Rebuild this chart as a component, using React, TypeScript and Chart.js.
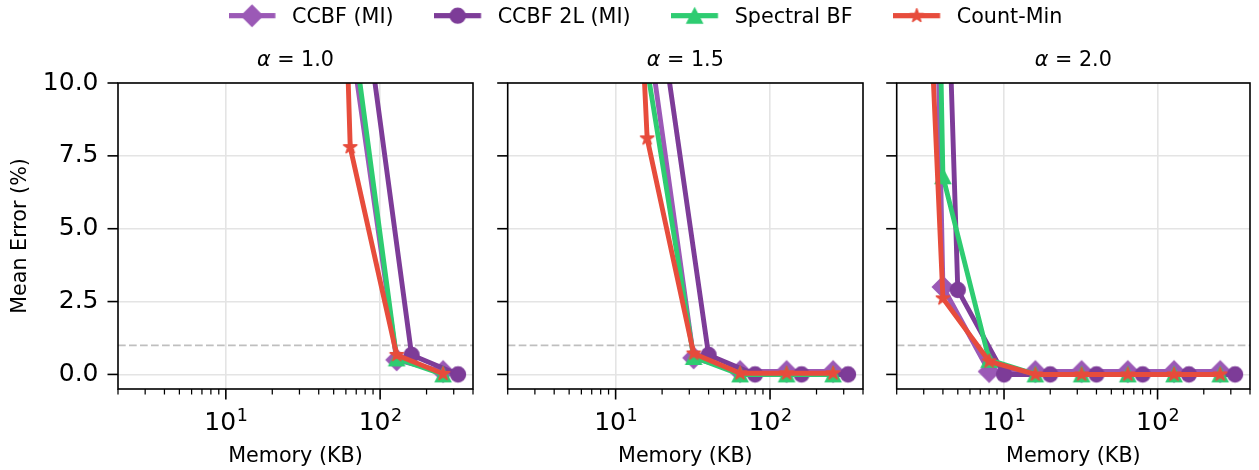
import React, { useEffect, useRef } from 'react';
import { Chart, registerables } from 'chart.js';

Chart.register(...registerables);

// ---------------- data ----------------
const MEMORY_KB = [2, 4, 8, 16, 32, 64, 128, 256];
const MEMORY_2L_KB = [2.5, 5, 10, 20, 40, 80, 160, 320];
const ALPHA_LABELS = ['1.0', '1.5', '2.0'];

const CCBF_MI_A10 = [null, null, null, null, null, 11.7, 0.5, 0.1];
const CCBF_MI_A15 = [null, null, null, 12.0, 0.57, 0.1, 0.1, 0.1];
const CCBF_MI_A20 = [80, 3.0, 0.1, 0.1, 0.1, 0.1, 0.1, 0.1];

const CCBF_2L_A10 = [null, null, null, null, null, 12.5, 0.67, 0.0];
const CCBF_2L_A15 = [null, null, null, 11.8, 0.67, 0.0, 0.0, 0.0];
const CCBF_2L_A20 = [53, 2.9, 0.0, 0.0, 0.0, 0.0, 0.0, 0.0];

const SPECTRAL_A10 = [null, null, null, null, null, 12.5, 0.55, 0.0];
const SPECTRAL_A15 = [null, null, null, 10.5, 0.6, 0.0, 0.0, 0.0];
const SPECTRAL_A20 = [90, 6.8, 0.5, 0.0, 0.0, 0.0, 0.0, 0.0];

const COUNT_MIN_A10 = [null, null, null, null, 60, 7.8, 0.67, 0.02];
const COUNT_MIN_A15 = [null, null, 42, 8.1, 0.72, 0.04, 0.04, 0.04];
const COUNT_MIN_A20 = [38.7, 2.61, 0.45, 0.0, 0.0, 0.0, 0.0, 0.0];

const X_MAJOR = [10, 100];
const X_MINOR = [2, 3, 4, 5, 6, 7, 8, 9, 20, 30, 40, 50, 60, 70, 80, 90, 200, 300, 400];
const X_TICK_BASE = '10';
const X_TICK_EXPONENTS: Record<number, string> = { 10: '1', 100: '2' };
const Y_TICKS = [0, 2.5, 5, 7.5, 10];
const X_MIN = 2;
const X_MAX = 400;
const Y_MIN = -0.5;
const Y_MAX = 10;
const THRESHOLD = 1.0;

const SERIES = [
  { label: 'CCBF (MI)', color: '#9b59b6', marker: 'diamond', memory: MEMORY_KB, values: [CCBF_MI_A10, CCBF_MI_A15, CCBF_MI_A20] },
  { label: 'CCBF 2L (MI)', color: '#7d3c98', marker: 'circle', memory: MEMORY_2L_KB, values: [CCBF_2L_A10, CCBF_2L_A15, CCBF_2L_A20] },
  { label: 'Spectral BF', color: '#2ecc71', marker: 'triangle', memory: MEMORY_KB, values: [SPECTRAL_A10, SPECTRAL_A15, SPECTRAL_A20] },
  { label: 'Count-Min', color: '#e74c3c', marker: 'star', memory: MEMORY_KB, values: [COUNT_MIN_A10, COUNT_MIN_A15, COUNT_MIN_A20] },
];

// ---------------- styles / layout ----------------
const FONT = "'DejaVu Sans'";
const TICK_FONT = 25;
const SUP_FONT = 17.5;
const LABEL_FONT = 20.7;
const LEGEND_FONT = 20.7;
const LINE_W = 4.9;
const GRID = '#e4e4e4';
const TRANSPARENT = 'rgba(0,0,0,0)';
const THRESHOLD_COLOR = '#bfbfbf';
const MAJOR_TICK = 10.5;
const MINOR_TICK = 5.5;

const PANEL_TOP = 40;
const PANEL_H = 430;
const PANELS = [
  { left: 0, width: 482, yAxisWidth: 118, padRight: 3.7, showY: true },
  { left: 487, width: 385, yAxisWidth: 20.7, padRight: 3.7, showY: false },
  { left: 876, width: 383, yAxisWidth: 20.7, padRight: 1.5, showY: false },
];

const LEGEND_ICON_W = 53;
const LEGEND_LINE_LEN = 46.7;
const LEGEND_GAP = 40.7;

function traceMarker(ctx: CanvasRenderingContext2D, kind: string, cx: number, cy: number) {
  ctx.beginPath();
  if (kind === 'diamond') {
    const r = 10.4;
    ctx.moveTo(cx, cy - r);
    ctx.lineTo(cx + r, cy);
    ctx.lineTo(cx, cy + r);
    ctx.lineTo(cx - r, cy);
    ctx.closePath();
  } else if (kind === 'circle') {
    ctx.arc(cx, cy, 7.4, 0, Math.PI * 2);
  } else if (kind === 'triangle') {
    const hw = 7.6;
    const h = 14.6;
    ctx.moveTo(cx, cy - h / 2);
    ctx.lineTo(cx + hw, cy + h / 2);
    ctx.lineTo(cx - hw, cy + h / 2);
    ctx.closePath();
  } else {
    const R = 7.0;
    const r = R * 0.382;
    for (let i = 0; i < 10; i++) {
      const ang = -Math.PI / 2 + (i * Math.PI) / 5;
      const rr = i % 2 === 0 ? R : r;
      const x = cx + rr * Math.cos(ang);
      const y = cy + rr * Math.sin(ang);
      if (i === 0) ctx.moveTo(x, y);
      else ctx.lineTo(x, y);
    }
    ctx.closePath();
  }
}

function paintMarker(ctx: CanvasRenderingContext2D, kind: string, cx: number, cy: number, color: string) {
  ctx.fillStyle = color;
  ctx.strokeStyle = color;
  ctx.lineWidth = 1.5;
  ctx.lineJoin = kind === 'star' ? 'round' : 'miter';
  traceMarker(ctx, kind, cx, cy);
  ctx.fill();
  ctx.stroke();
}

function makeMarkerCanvas(kind: string, color: string) {
  const c = document.createElement('canvas');
  c.width = 28;
  c.height = 28;
  const ctx = c.getContext('2d')!;
  paintMarker(ctx, kind, 14, 14, color);
  return c;
}

function makeLegendIcon(kind: string, color: string) {
  const c = document.createElement('canvas');
  c.width = LEGEND_ICON_W;
  c.height = 32;
  const ctx = c.getContext('2d')!;
  const cy = 16 - 2.3;
  ctx.strokeStyle = color;
  ctx.lineWidth = LINE_W + 0.4;
  ctx.beginPath();
  ctx.moveTo(0, cy);
  ctx.lineTo(LEGEND_LINE_LEN, cy);
  ctx.stroke();
  paintMarker(ctx, kind, LEGEND_LINE_LEN / 2, cy, color);
  return c;
}

const framePlugin = {
  id: 'panelFrame',
  beforeDatasetsDraw(chart: any) {
    const { ctx, chartArea: a, scales } = chart;
    const y = scales.y.getPixelForValue(THRESHOLD);
    ctx.save();
    ctx.beginPath();
    ctx.rect(a.left, a.top, a.right - a.left, a.bottom - a.top);
    ctx.clip();
    ctx.strokeStyle = THRESHOLD_COLOR;
    ctx.lineWidth = 1.8;
    ctx.setLineDash([7.7, 3.3]);
    ctx.beginPath();
    ctx.moveTo(a.left, y);
    ctx.lineTo(a.right, y);
    ctx.stroke();
    ctx.restore();
  },
  afterDatasetsDraw(chart: any, _args: any, opts: any) {
    const { ctx, chartArea: a, scales } = chart;
    ctx.save();
    ctx.strokeStyle = '#000';
    ctx.fillStyle = '#000';
    // x tick marks and labels
    for (const t of scales.x.ticks) {
      const px = scales.x.getPixelForValue(t.value);
      const major = X_MAJOR.includes(t.value);
      ctx.lineWidth = major ? 1.6 : 1.25;
      ctx.beginPath();
      ctx.moveTo(px, a.bottom);
      ctx.lineTo(px, a.bottom + (major ? MAJOR_TICK : MINOR_TICK));
      ctx.stroke();
      const exp = X_TICK_EXPONENTS[t.value];
      if (exp !== undefined) {
        ctx.textBaseline = 'alphabetic';
        ctx.textAlign = 'left';
        ctx.font = `${TICK_FONT}px ${FONT}`;
        const wb = ctx.measureText(X_TICK_BASE).width;
        ctx.font = `${SUP_FONT}px ${FONT}`;
        const we = ctx.measureText(exp).width;
        const x0 = px - (wb + we) / 2;
        const base = a.bottom + 40.8;
        ctx.font = `${TICK_FONT}px ${FONT}`;
        ctx.fillText(X_TICK_BASE, x0, base);
        ctx.font = `${SUP_FONT}px ${FONT}`;
        ctx.fillText(exp, x0 + wb + 0.5, base - 9.3);
      }
    }
    // y tick marks
    ctx.lineWidth = 1.6;
    for (const t of scales.y.ticks) {
      const py = scales.y.getPixelForValue(t.value);
      ctx.beginPath();
      ctx.moveTo(a.left - MAJOR_TICK, py);
      ctx.lineTo(a.left, py);
      ctx.stroke();
    }
    // spines
    ctx.lineWidth = 1.6;
    ctx.strokeRect(a.left, a.top, a.right - a.left, a.bottom - a.top);
    // title
    const alpha = '\u03B1';
    const rest = ' = ' + opts.alpha;
    ctx.textBaseline = 'middle';
    ctx.textAlign = 'left';
    ctx.font = `italic ${LABEL_FONT}px ${FONT}`;
    const w1 = ctx.measureText(alpha).width;
    ctx.font = `${LABEL_FONT}px ${FONT}`;
    const w2 = ctx.measureText(rest).width;
    const cx = (a.left + a.right) / 2;
    const x0 = cx - (w1 + w2) / 2;
    const ty = a.top - 22.8;
    ctx.font = `italic ${LABEL_FONT}px ${FONT}`;
    ctx.fillText(alpha, x0, ty);
    ctx.font = `${LABEL_FONT}px ${FONT}`;
    ctx.fillText(rest, x0 + w1, ty);
    ctx.restore();
  },
};

function panelConfig(pi: number, markers: HTMLCanvasElement[]): any {
  const panel = PANELS[pi];
  const datasets = SERIES.map((s, si) => ({
    label: s.label,
    data: s.memory.map((m, k) => ({ x: m, y: s.values[pi][k] })),
    borderColor: s.color,
    backgroundColor: s.color,
    borderWidth: LINE_W,
    borderJoinStyle: 'round',
    tension: 0,
    spanGaps: false,
    pointStyle: markers[si],
    pointRadius: 9,
    pointHoverRadius: 9,
    pointBorderWidth: 0,
    order: SERIES.length - si,
  }));
  return {
    type: 'line',
    data: { datasets },
    options: {
      responsive: false,
      animation: false,
      events: [],
      layout: { padding: { top: 43, right: panel.padRight, bottom: 0, left: 0 } },
      scales: {
        x: {
          type: 'logarithmic',
          min: X_MIN,
          max: X_MAX,
          bounds: 'data',
          afterBuildTicks: (scale: any) => {
            scale.ticks = [...X_MINOR, ...X_MAJOR]
              .filter((v) => v >= X_MIN && v <= X_MAX)
              .sort((p, q) => p - q)
              .map((v) => ({ value: v, major: X_MAJOR.includes(v) }));
          },
          afterFit: (scale: any) => {
            scale.height = 81;
            scale.paddingLeft = 0;
            scale.paddingRight = 0;
          },
          grid: {
            color: (c: any) => (c.tick && X_MAJOR.includes(c.tick.value) ? GRID : TRANSPARENT),
            lineWidth: 1.6,
            drawTicks: true,
            tickLength: MAJOR_TICK,
            tickColor: TRANSPARENT,
          },
          border: { display: false },
          ticks: {
            display: false,
            autoSkip: false,
            maxRotation: 0,
            minRotation: 0,
          },
          title: {
            display: true,
            text: 'Memory (KB)',
            color: '#000',
            font: { family: FONT, size: LABEL_FONT },
            padding: { top: 0, bottom: 1.1 },
          },
        },
        y: {
          type: 'linear',
          min: Y_MIN,
          max: Y_MAX,
          afterBuildTicks: (scale: any) => {
            scale.ticks = Y_TICKS.map((v) => ({ value: v }));
          },
          afterFit: (scale: any) => {
            scale.width = panel.yAxisWidth;
            scale.paddingTop = 0;
            scale.paddingBottom = 0;
          },
          grid: {
            color: GRID,
            lineWidth: 1.6,
            drawTicks: true,
            tickLength: MAJOR_TICK,
            tickColor: TRANSPARENT,
          },
          border: { display: false },
          ticks: {
            display: panel.showY,
            padding: 9,
            color: '#000',
            font: { family: FONT, size: TICK_FONT },
            callback: (v: any) => Number(v).toFixed(1),
          },
          title: {
            display: panel.showY,
            text: 'Mean Error (%)',
            color: '#000',
            font: { family: FONT, size: LABEL_FONT },
            padding: { top: 8.6, bottom: 0 },
          },
        },
      },
      plugins: {
        legend: { display: false },
        tooltip: { enabled: false },
        panelFrame: { alpha: ALPHA_LABELS[pi] },
      },
    },
    plugins: [framePlugin],
  };
}

function legendConfig(icons: HTMLCanvasElement[]): any {
  return {
    type: 'line',
    data: {
      datasets: SERIES.map((s) => ({ label: s.label, data: [], borderColor: s.color, backgroundColor: s.color })),
    },
    options: {
      responsive: false,
      animation: false,
      events: [],
      layout: { padding: 0 },
      scales: { x: { display: false }, y: { display: false } },
      plugins: {
        tooltip: { enabled: false },
        legend: {
          display: true,
          position: 'top',
          align: 'center',
          labels: {
            usePointStyle: true,
            pointStyleWidth: LEGEND_ICON_W,
            padding: LEGEND_GAP,
            color: '#000',
            font: { family: FONT, size: LEGEND_FONT },
            generateLabels: (chart: any) =>
              chart.data.datasets.map((ds: any, i: number) => ({
                text: ds.label,
                pointStyle: icons[i],
                fillStyle: ds.backgroundColor,
                strokeStyle: ds.borderColor,
                lineWidth: 0,
                hidden: false,
                datasetIndex: i,
                fontColor: '#000',
              })),
          },
        },
      },
    },
  };
}

export default function App() {
  const legendRef = useRef<HTMLCanvasElement>(null);
  const p0 = useRef<HTMLCanvasElement>(null);
  const p1 = useRef<HTMLCanvasElement>(null);
  const p2 = useRef<HTMLCanvasElement>(null);
  const panelRefs = [p0, p1, p2];

  useEffect(() => {
    Chart.defaults.font.family = FONT;
    const markers = SERIES.map((s) => makeMarkerCanvas(s.marker, s.color));
    const icons = SERIES.map((s) => makeLegendIcon(s.marker, s.color));
    const charts: Chart[] = [];
    charts.push(new Chart(legendRef.current!, legendConfig(icons)));
    PANELS.forEach((_p, i) => {
      charts.push(new Chart(panelRefs[i].current!, panelConfig(i, markers)));
    });
    return () => charts.forEach((c) => c.destroy());
  }, []);

  return (
    <div style={{ position: 'fixed', left: 0, top: 0, width: 1259, height: 470, overflow: 'hidden', background: '#fff' }}>
      <canvas ref={legendRef} width={1231} height={180} style={{ position: 'absolute', left: 30, top: -33 }} />
      {PANELS.map((p, i) => (
        <canvas
          key={i}
          ref={panelRefs[i]}
          width={p.width}
          height={PANEL_H}
          style={{ position: 'absolute', left: p.left, top: PANEL_TOP }}
        />
      ))}
    </div>
  );
}
